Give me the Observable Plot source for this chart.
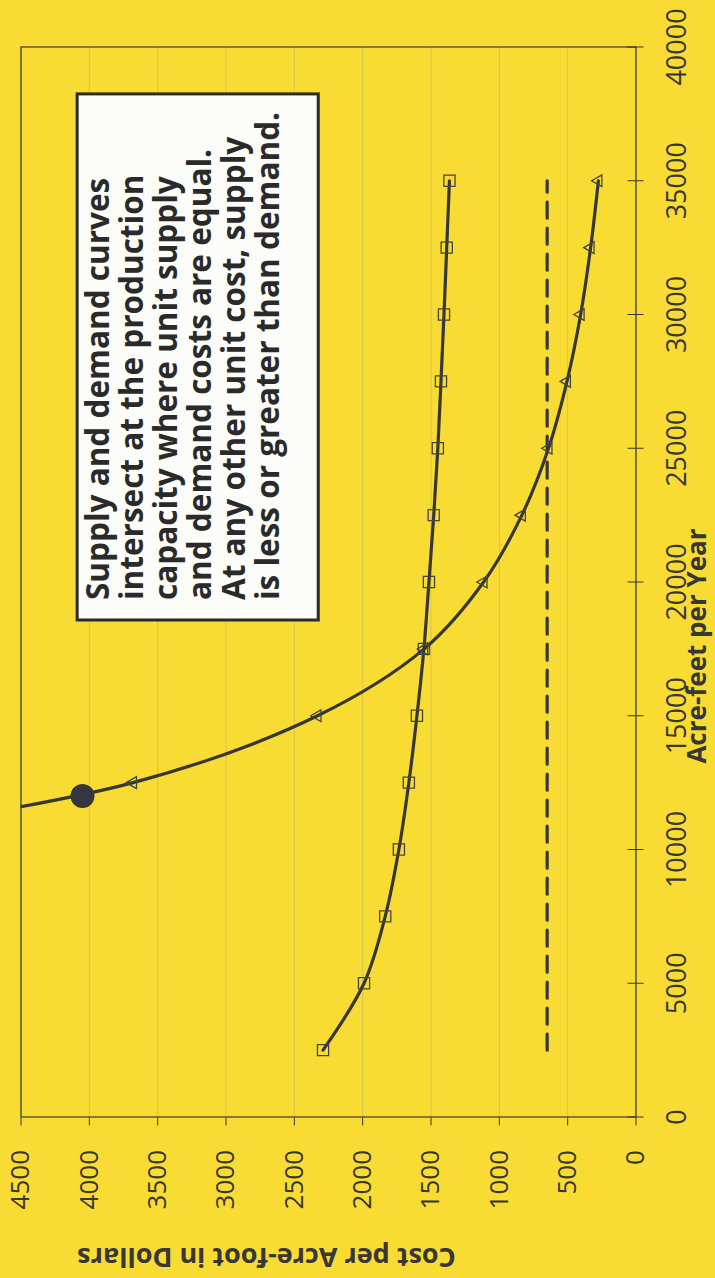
<!DOCTYPE html>
<html>
<head>
<meta charset="utf-8">
<script src="https://cdn.jsdelivr.net/npm/d3@7"></script>
<script src="https://cdn.jsdelivr.net/npm/@observablehq/plot@0.6"></script>
<style>
  html, body { margin: 0; padding: 0; width: 715px; height: 1278px; overflow: hidden; background: #f9dc33; }
  #wrap { position: absolute; left: -281.5px; top: 281.5px; width: 1278px; height: 715px;
          transform: rotate(-90deg); transform-origin: 50% 50%; }
</style>
</head>
<body>
<div id="wrap"></div>
<script>
// ---- data ----
const acreFeetTicks = [0, 5000, 10000, 15000, 20000, 25000, 30000, 35000, 40000];
const costTicks = [0, 500, 1000, 1500, 2000, 2500, 3000, 3500, 4000, 4500];

const supplyAcreFeet = [2500, 5000, 7500, 10000, 12500, 15000, 17500, 20000, 22500, 25000, 27500, 30000, 32500, 35000];
const supplyCost     = [2290, 1990, 1835, 1735, 1662, 1603, 1552, 1515, 1480, 1450, 1427, 1405, 1385, 1365];

const demandAcreFeet = [10000, 12500, 15000, 17500, 20000, 22500, 25000, 27500, 30000, 32500, 35000];
const demandCost     = [6400, 3680, 2330, 1550, 1115, 835, 640, 505, 405, 332, 275];

const baselineAcreFeet = [2500, 35000];
const baselineCost     = [650, 650];

const pointAcreFeet = [12000];
const pointCost     = [4050];

const xTitle = "Acre-feet per Year";
const yTitle = "Cost per Acre-foot in Dollars";
const noteLines = [
  "Supply and demand curves",
  "intersect at the production",
  "capacity where unit supply",
  "and demand costs are equal.",
  "At any other unit cost, supply",
  "is less or greater than demand."
];

// ---- build tables ----
const supply = supplyAcreFeet.map((a, i) => ({a, c: supplyCost[i]}));
const demand = demandAcreFeet.map((a, i) => ({a, c: demandCost[i]}));
const baseline = baselineAcreFeet.map((a, i) => ({a, c: baselineCost[i]}));
const point = pointAcreFeet.map((a, i) => ({a, c: pointCost[i]}));

const W = 1278, H = 715;
const mL = 161, mR = 47, mT = 20, mB = 80;
const ink = "#373737";
const gridColor = "#d8c350";
const font = "'Open Sans', 'DejaVu Sans', sans-serif";

const chart = Plot.plot({
  width: W, height: H,
  marginLeft: mL, marginRight: mR, marginTop: mT, marginBottom: mB,
  style: {background: "#f9dc33", fontFamily: font, color: ink, overflow: "visible"},
  x: {domain: [0, 40000]},
  y: {domain: [0, 4500]},
  marks: [
    Plot.gridY(costTicks, {stroke: gridColor, strokeOpacity: 1, strokeWidth: 1}),
    Plot.frame({stroke: ink, strokeWidth: 1.2}),
    Plot.axisY(costTicks, {tickSize: 8, tickPadding: 25, fontSize: 26, tickFormat: "d", label: null}),
    Plot.axisX(acreFeetTicks, {tickSize: 8, tickPadding: 23, fontSize: 27, tickFormat: "d", label: null}),
    Plot.tickX(acreFeetTicks, {x: d => d, stroke: ink, insetTop: H - mT - mB - 8}),
    Plot.line(baseline, {x: "a", y: "c", stroke: ink, strokeWidth: 3.2, strokeDasharray: "16,10"}),
    Plot.line(supply, {x: "a", y: "c", curve: "catmull-rom", stroke: ink, strokeWidth: 3.2}),
    Plot.line(demand, {x: "a", y: "c", curve: "catmull-rom", stroke: ink, strokeWidth: 3.2, clip: true}),
    Plot.dot(supply, {x: "a", y: "c", symbol: "square", r: 6.3, stroke: "#444", strokeWidth: 1.3, fill: "none"}),
    Plot.dot(demand, {x: "a", y: "c", symbol: "triangle", r: 4.4, stroke: "#444", strokeWidth: 1.3, fill: "none", clip: true}),
    Plot.dot(point, {x: "a", y: "c", r: 12, fill: "#35353d", stroke: "none"}),
    Plot.text([xTitle], {text: d => d, frameAnchor: "bottom", dx: -64, dy: 62, textAnchor: "middle", lineAnchor: "middle",
                         fontSize: 26, fontWeight: "bold", fill: ink}),
    Plot.text([yTitle], {text: d => d, frameAnchor: "left", dx: -140, dy: -62, rotate: -90,
                         textAnchor: "middle", lineAnchor: "middle",
                         fontSize: 27, fontWeight: "bold", fill: ink}),
    Plot.text([noteLines.join("\n")], {text: d => d, frameAnchor: "top-left", dx: 517, dy: 64,
                         textAnchor: "start", lineAnchor: "top", lineHeight: 1.08,
                         fontSize: 31.5, fontWeight: "bold", fill: "#2a2a2a"})
  ]
});

document.getElementById("wrap").append(chart);

// white annotation box drawn behind the note, sized from the note text itself
const noteG = [...chart.querySelectorAll('g[aria-label="text"]')].find(g => g.textContent.startsWith("Supply"));
if (noteG) {
  const bb = noteG.getBBox();
  const rect = document.createElementNS("http://www.w3.org/2000/svg", "rect");
  rect.setAttribute("x", bb.x - 20);
  rect.setAttribute("y", bb.y + 2);
  rect.setAttribute("width", bb.width + 38);
  rect.setAttribute("height", bb.height + 28);
  rect.setAttribute("fill", "#fcfcf8");
  rect.setAttribute("stroke", "#2a2a2a");
  rect.setAttribute("stroke-width", 3);
  noteG.insertBefore(rect, noteG.firstChild);
}
</script>
</body>
</html>
